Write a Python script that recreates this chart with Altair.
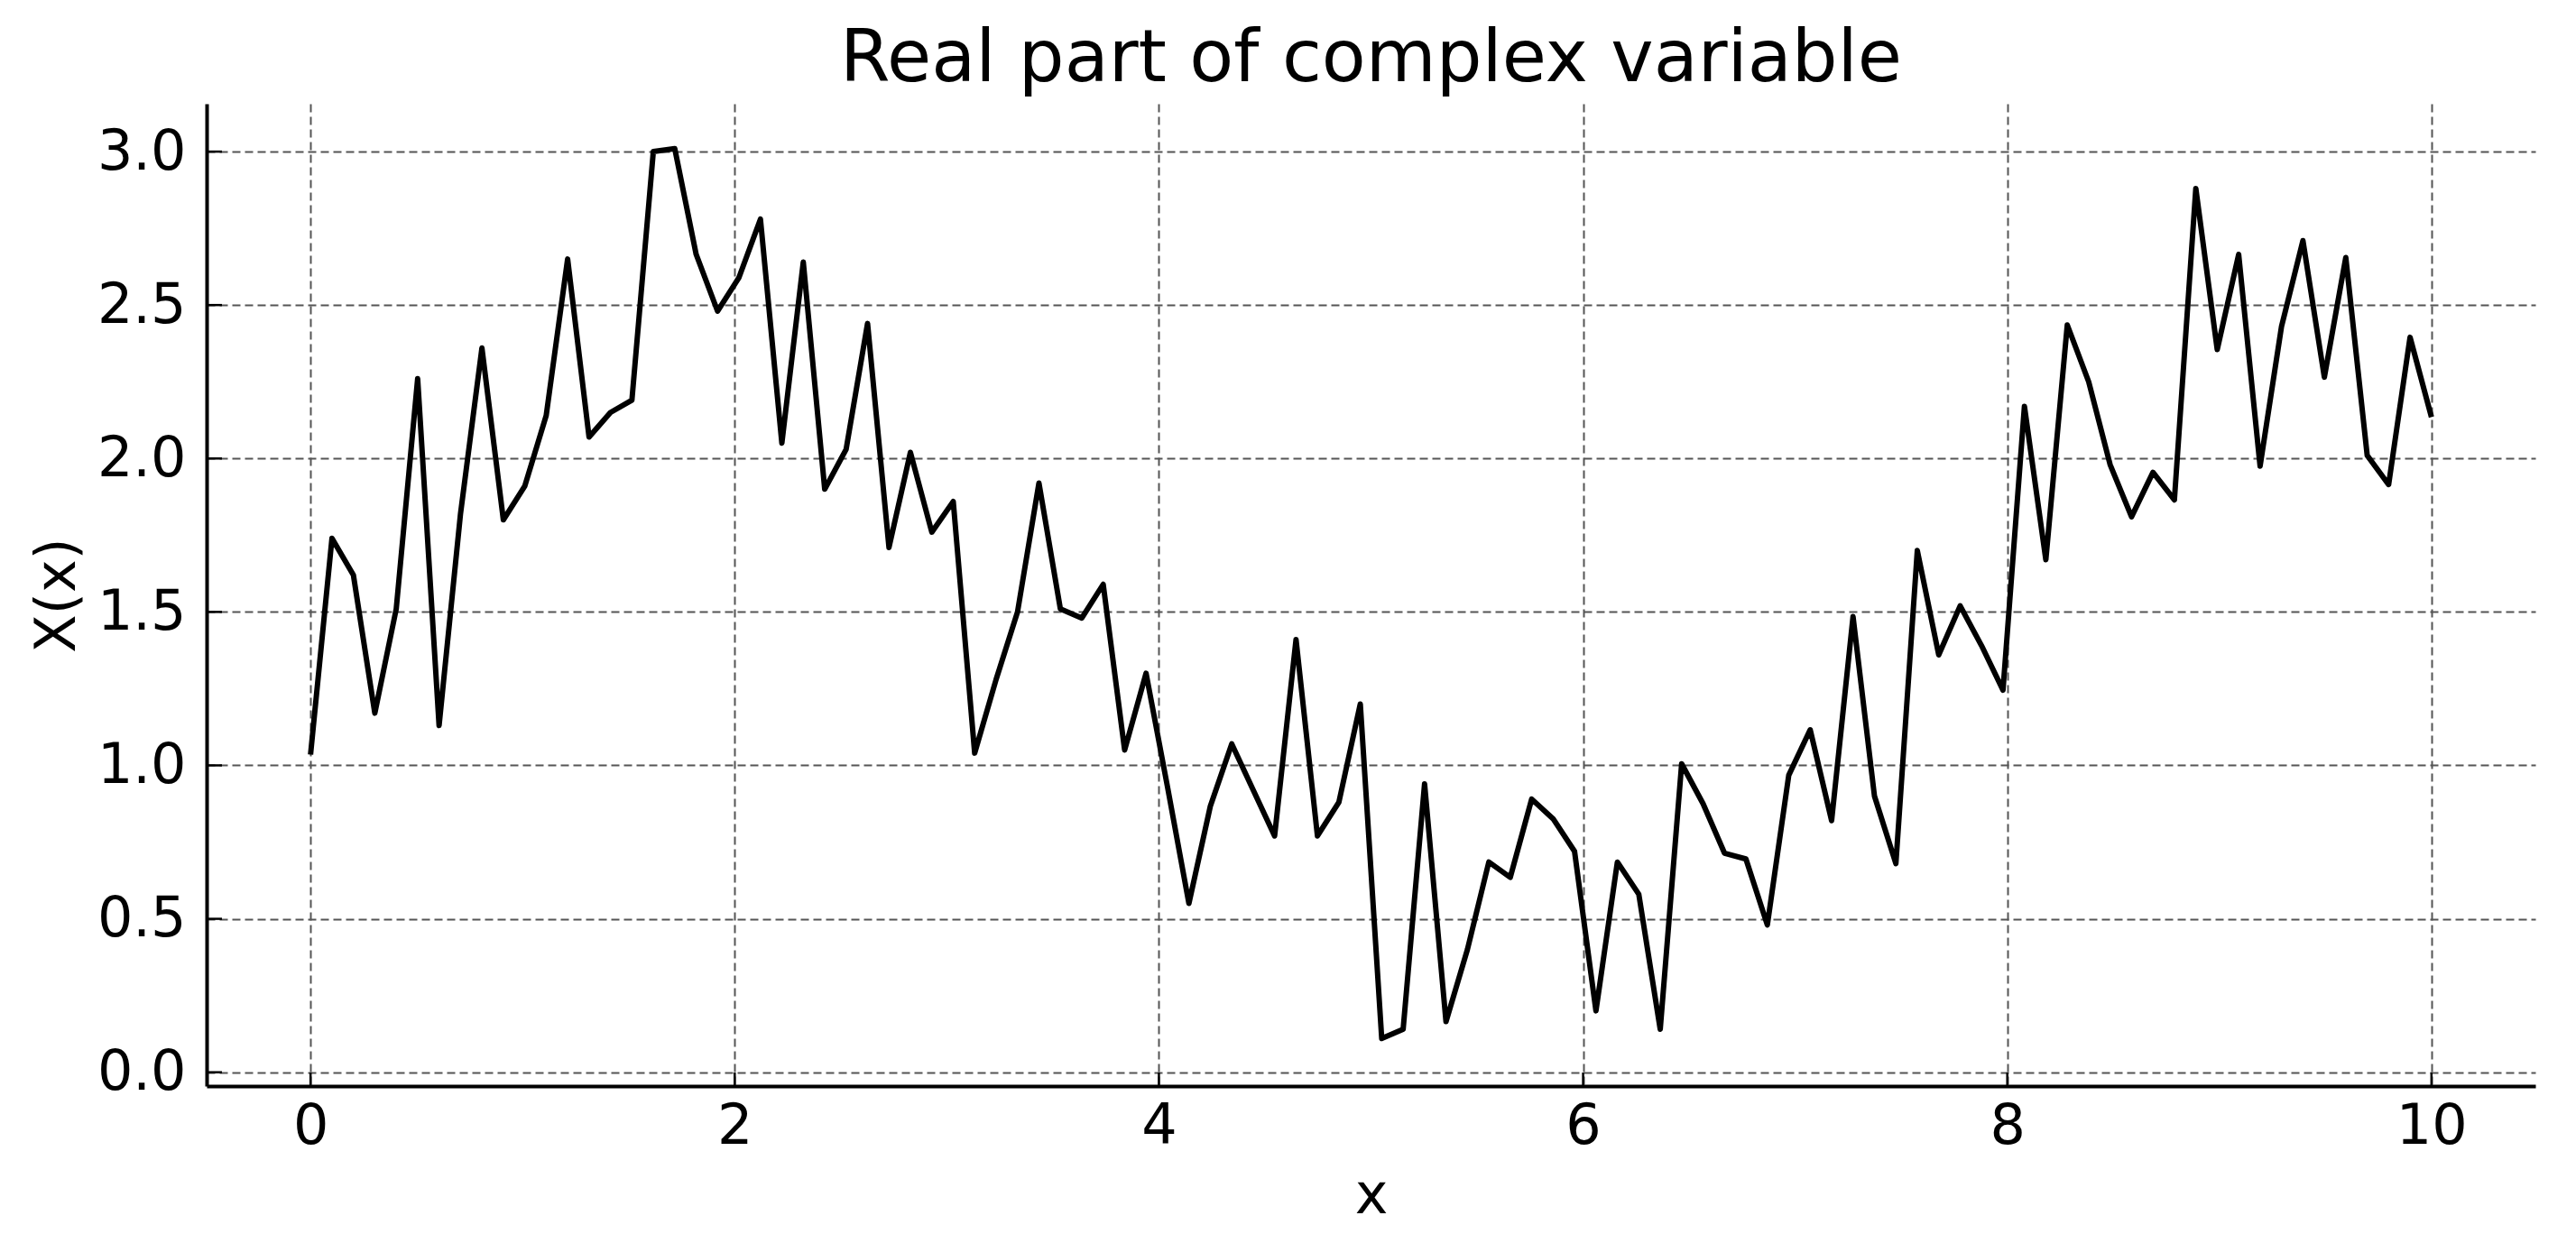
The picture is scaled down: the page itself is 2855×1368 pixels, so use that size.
import altair as alt
import pandas as pd

# sampling grid: 100 evenly spaced samples on [0, 10]
x_vals = [i * 10 / 99 for i in range(100)]

y_vals = [
    1.035, 1.74, 1.62, 1.17, 1.51, 2.26, 1.13, 1.82, 2.36, 1.80,
    1.91, 2.14, 2.65, 2.07, 2.15, 2.19, 3.00, 3.01, 2.665, 2.48,
    2.59, 2.78, 2.05, 2.64, 1.90, 2.03, 2.44, 1.71, 2.02, 1.76,
    1.86, 1.04, 1.28, 1.50, 1.92, 1.51, 1.48, 1.59, 1.05, 1.30,
    0.93, 0.55, 0.867, 1.07, 0.92, 0.77, 1.41, 0.77, 0.88, 1.20,
    0.11, 0.14, 0.94, 0.165, 0.40, 0.685, 0.635, 0.89, 0.826, 0.72,
    0.20, 0.685, 0.58, 0.14, 1.005, 0.875, 0.714, 0.695, 0.48, 0.968,
    1.116, 0.82, 1.485, 0.90, 0.68, 1.70, 1.36, 1.52, 1.39, 1.245,
    2.17, 1.67, 2.435, 2.25, 1.98, 1.81, 1.955, 1.865, 2.88, 2.355,
    2.665, 1.975, 2.43, 2.71, 2.265, 2.655, 2.01, 1.915, 2.395, 2.135,
]

x_ticks = [0, 2, 4, 6, 8, 10]
y_ticks = [0.0, 0.5, 1.0, 1.5, 2.0, 2.5, 3.0]

W, H = 2581, 1089
FONT = "DejaVu Sans"

df = pd.DataFrame({"x": x_vals, "y": y_vals})

xs = alt.Scale(domain=[-0.49, 10.49], nice=False, zero=False)
ys = alt.Scale(domain=[-0.045, 3.156], nice=False, zero=False)

common_axis = dict(
    domainColor="black",
    domainWidth=4,
    ticks=False,
    grid=True,
    gridColor="#555555",
    gridDash=[9, 5],
    gridWidth=2,
    labelFont=FONT,
    labelFontSize=62,
    labelColor="black",
    titleFont=FONT,
    titleFontSize=62,
    titleFontWeight="normal",
    titleColor="black",
    labelFlush=False,
)

x_axis = alt.Axis(values=x_ticks, format="d", title="x",
                  labelPadding=14, titlePadding=16, **common_axis)
y_axis = alt.Axis(values=y_ticks, format=".1f", title="X(x)",
                  labelPadding=23, titlePadding=12, **common_axis)

line = alt.Chart(df).mark_line(
    color="black", strokeWidth=6, strokeJoin="round"
).encode(
    x=alt.X("x:Q", scale=xs, axis=x_axis),
    y=alt.Y("y:Q", scale=ys, axis=y_axis),
)

xt = alt.Chart(pd.DataFrame({"x": x_ticks})).mark_rule(
    color="black", strokeWidth=2.5
).encode(
    x=alt.X("x:Q", scale=xs, axis=x_axis),
    y=alt.value(H),
    y2=alt.value(H - 15),
)

yt = alt.Chart(pd.DataFrame({"y": y_ticks})).mark_rule(
    color="black", strokeWidth=2.5
).encode(
    y=alt.Y("y:Q", scale=ys, axis=y_axis),
    x=alt.value(0),
    x2=alt.value(17),
)

chart = alt.layer(line, xt, yt).properties(
    width=W,
    height=H,
    autosize=alt.AutoSizeParams(type="none"),
    padding={"left": 221, "top": 107, "right": 37, "bottom": 156},
    title=alt.TitleParams(
        text="Real part of complex variable",
        font=FONT,
        fontSize=80,
        fontWeight="normal",
        color="black",
        anchor="middle",
        baseline="alphabetic",
        offset=-55,
    ),
    background="white",
).configure_view(stroke="transparent")

chart.save("out.html", embed_options={"renderer": "svg", "actions": False})
